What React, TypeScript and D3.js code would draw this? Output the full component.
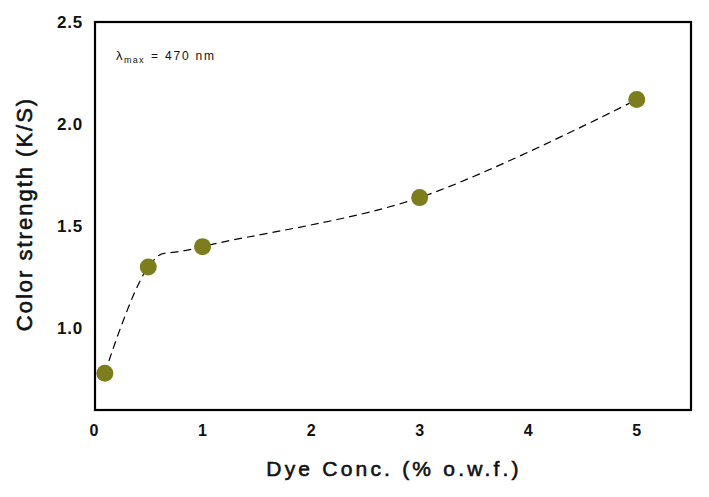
import React from "react";
import * as d3 from "d3";

const concentrations = [0.1, 0.5, 1, 3, 5];
const colorStrength = [0.78, 1.3, 1.4, 1.64, 2.12];
const xTicks = [0, 1, 2, 3, 4, 5];
const yTicks = [1.0, 1.5, 2.0, 2.5];

const W = 709;
const H = 497;
const M = { left: 95, right: 18, top: 22, bottom: 87 };

export default function App() {
  const x = d3.scaleLinear().domain([0, 5.5]).range([M.left - 1, W - M.right]);
  const y = d3.scaleLinear().domain([0.6, 2.5]).range([H - M.bottom, M.top]);
  const pts = concentrations.map((c, i) => [c, colorStrength[i]] as [number, number]);
  const line = d3
    .line<[number, number]>()
    .x((d) => x(d[0]))
    .y((d) => y(d[1]))
    .curve(d3.curveCatmullRom.alpha(0));
  const font = "Arial, 'Liberation Sans', sans-serif";
  return (
    <svg width={W} height={H} style={{ position: "absolute", left: 0, top: 0 }} fontFamily={font}>
      <rect x={0} y={0} width={W} height={H} fill="#fff" />
      <path d={line(pts) || ""} fill="none" stroke="#000" strokeWidth={1.2} strokeDasharray="8,5" />
      {pts.map((p, i) => (
        <circle key={i} cx={x(p[0])} cy={y(p[1])} r={8.5} fill="#7d7d1e" />
      ))}
      <rect
        x={M.left}
        y={M.top}
        width={W - M.right - M.left}
        height={H - M.bottom - M.top}
        fill="none"
        stroke="#000"
        strokeWidth={2.2}
      />
      {xTicks.map((t) => (
        <text key={t} x={x(t)} y={436} textAnchor="middle" fontSize={16} fontWeight="bold" fill="#111">
          {t}
        </text>
      ))}
      {yTicks.map((t) => (
        <text
          key={t}
          x={83}
          y={y(t) + 6}
          textAnchor="end"
          fontSize={17}
          letterSpacing={0.8}
          fontWeight="bold"
          fill="#111"
        >
          {t.toFixed(1)}
        </text>
      ))}
      <text
        x={394}
        y={476}
        textAnchor="middle"
        fontSize={21}
        letterSpacing={3.2}
        fill="#111"
        stroke="#111"
        strokeWidth={0.6}
      >
        Dye Conc. (% o.w.f.)
      </text>
      <text
        transform={`translate(32,${(M.top + H - M.bottom) / 2 - 2}) rotate(-90)`}
        textAnchor="middle"
        fontSize={22}
        letterSpacing={2}
        fill="#111"
        stroke="#111"
        strokeWidth={0.6}
      >
        Color strength (K/S)
      </text>
      <text x={116} y={60} fontSize={13} fill="#111">λ</text>
      <text x={124} y={63} fontSize={9} letterSpacing={1.2} fill="#111">max</text>
      <text x={151} y={60} fontSize={12} fill="#111">=</text>
      <text x={165} y={60} fontSize={12} letterSpacing={1.8} fill="#111">470 nm</text>
    </svg>
  );
}
